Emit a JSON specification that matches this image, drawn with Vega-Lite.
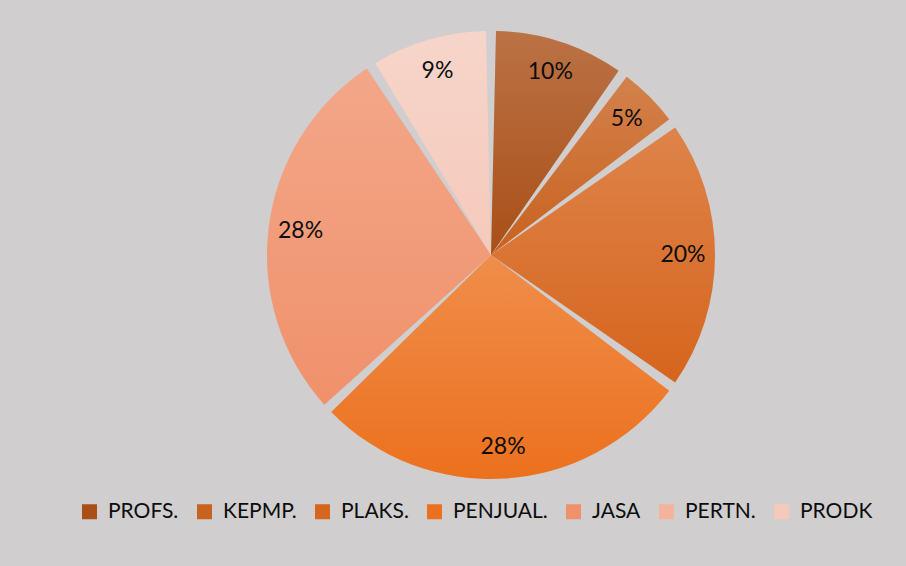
{
  "$schema": "https://vega.github.io/schema/vega-lite/v6.json",
  "width": 982,
  "height": 510,
  "autosize": "none",
  "padding": {"left": 0, "top": 0, "right": 0, "bottom": 56},
  "background": "#d0cece",
  "config": {"view": {"stroke": null}},
  "data": {
    "values": [
      {"category": "PROFS.", "share": 0.10, "order": 1},
      {"category": "KEPMP.", "share": 0.05, "order": 2},
      {"category": "PLAKS.", "share": 0.20, "order": 3},
      {"category": "PENJUAL.", "share": 0.28, "order": 4},
      {"category": "JASA", "share": 0.28, "order": 5},
      {"category": "PERTN.", "share": 0.0, "order": 6},
      {"category": "PRODK", "share": 0.09, "order": 7}
    ]
  },
  "encoding": {
    "theta": {"field": "share", "type": "quantitative", "stack": true},
    "order": {"field": "order", "type": "quantitative"}
  },
  "layer": [
    {
      "mark": {"type": "arc", "outerRadius": 224, "padAngle": 0.045},
      "encoding": {
        "color": {
          "field": "category",
          "type": "nominal",
          "sort": null,
          "scale": {
            "domain": ["PROFS.", "KEPMP.", "PLAKS.", "PENJUAL.", "JASA", "PERTN.", "PRODK"],
            "range": ["#aa4f17", "#c8621f", "#d6651d", "#ec711e", "#f0916b", "#f4b49c", "#f5cabc"]
          },
          "legend": {
            "title": null,
            "orient": "none",
            "direction": "horizontal",
            "columns": 7,
            "legendX": 79,
            "legendY": 501,
            "symbolType": "square",
            "symbolSize": 225,
            "symbolStrokeWidth": 0,
            "labelFont": "Lato",
            "labelFontSize": 21,
            "labelColor": "#0d0d0d",
            "labelOffset": 8,
            "columnPadding": 15
          }
        }
      }
    },
    {
      "mark": {
        "type": "arc",
        "outerRadius": 224,
        "padAngle": 0.045,
        "fill": {
          "gradient": "linear",
          "x1": 0, "y1": 0, "x2": 0, "y2": 1,
          "stops": [
            {"offset": 0, "color": "rgba(255,255,255,0.2)"},
            {"offset": 1, "color": "rgba(255,255,255,0)"}
          ]
        }
      }
    },
    {
      "transform": [{"filter": "datum.share > 0"}],
      "mark": {"type": "text", "radius": 192, "font": "Lato", "fontSize": 23, "baseline": "middle", "align": "center"},
      "encoding": {
        "text": {"field": "share", "type": "quantitative", "format": ".0%"},
        "color": {"value": "#0d0d0d"}
      }
    }
  ]
}
